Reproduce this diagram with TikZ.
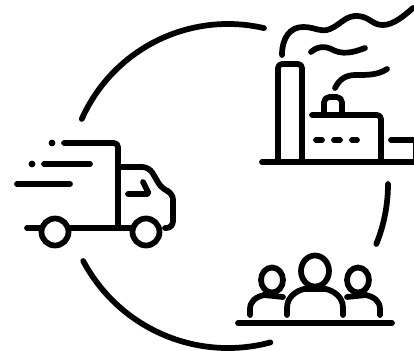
\documentclass[tikz,border=0pt]{standalone}
\usepackage{tikz}

\begin{document}
\begin{tikzpicture}[
  x=0.75pt, y=-0.75pt,
  ln/.style={draw=black, line width=4.3pt, line cap=round, line join=round}]
  \useasboundingbox (0,0) rectangle (414,350);
  \clip (0,0) rectangle (414,350);
  \coordinate (cen) at (228,184);
  % ring
  \draw[ln] (cen) ++(204:160) arc[start angle=204, end angle=283, radius=160];
  \draw[ln] (cen) ++(0:160) arc[start angle=0, end angle=22, radius=160];
  \draw[ln] (cen) ++(152:164) arc[start angle=152, end angle=75, radius=164];
  % factory
  \draw[ln] (262,162) -- (420,162);
  \draw[ln, rounded corners=3] (278,162) -- (278,64) -- (302,64) -- (302,162);
  \draw[ln, rounded corners=3] (312,115) -- (381,115) -- (381,162);
  \draw[ln, rounded corners=4] (324,115) -- (324,97) -- (342,97) -- (342,115);
  \draw[ln] (316,140) -- (322,140) (334,140) -- (340,140) (352,140) -- (357,140);
  \draw[ln] (391,140) -- (420,140) (416,140) -- (416,162);
  \draw[ln] (282,55) .. controls (282,38) and (290,27) .. (303,27)
    .. controls (316,27) and (320,33) .. (330,29)
    .. controls (340,25) and (346,15) .. (358,16)
    .. controls (370,17) and (372,25) .. (383,25)
    .. controls (393,25) and (404,16) .. (413,8);
  \draw[ln] (311,52) .. controls (318,46) and (324,46) .. (331,49)
    .. controls (342,55) and (352,53) .. (365,48);
  \draw[ln] (335,88) .. controls (340,78) and (347,75) .. (356,75)
    .. controls (368,75) and (378,75) .. (387,69);
  % truck
  \draw[ln, rounded corners=3] (64,143) -- (118,143) -- (118,226);
  \fill (52,143) circle (3.4);
  \fill (32,164) circle (3.4);
  \draw[ln] (44,164) -- (90,164);
  \draw[ln] (17,184) -- (70,184);
  \draw[ln, rounded corners=5] (120,167) -- (149,167) -- (162,189) -- (173,193) -- (173,228) -- (165,228);
  \draw[ln, rounded corners=1.5] (128,194) -- (149,194) -- (143,182);
  \draw[ln] (27,228) -- (41,228);
  \draw[ln] (71,228) -- (131,228);
  \draw[ln] (55,232) circle (13.5);
  \draw[ln] (146,232) circle (13.5);
  % people
  \draw[ln] (238,323) -- (392,323);
  \draw[ln] (315,271) ellipse (14 and 15.5);
  \draw[ln] (287,315) -- (287,308) .. controls (287,297) and (296,291) .. (304,289) -- (326,289) .. controls (334,291) and (343,297) .. (343,308) -- (343,315);
  \draw[ln] (272,280) ellipse (11 and 12.5);
  \draw[ln] (250,315) -- (250,309) .. controls (250,301) and (256,297) .. (264,295) -- (283,297);
  \draw[ln] (358,280) ellipse (11 and 12.5);
  \draw[ln] (380,315) -- (380,309) .. controls (380,301) and (374,297) .. (366,295) -- (347,297);
\end{tikzpicture}
\end{document}
